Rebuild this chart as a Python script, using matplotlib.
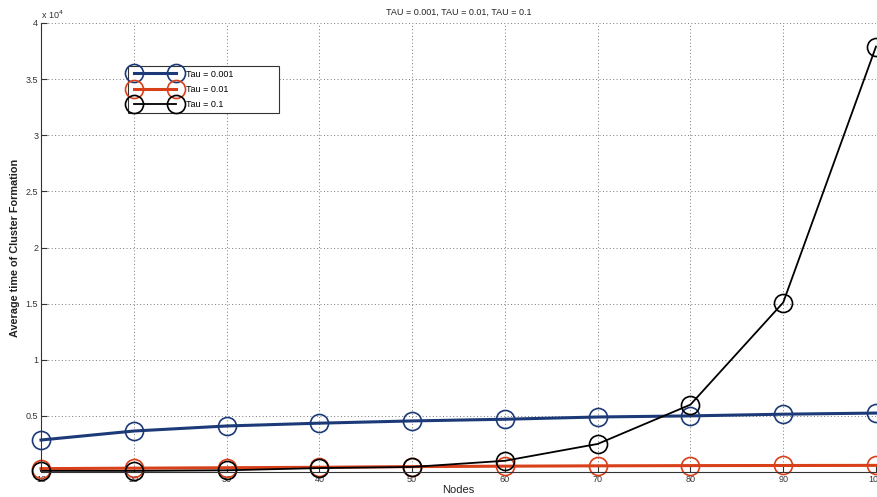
import matplotlib
matplotlib.use("Agg")
import matplotlib.pyplot as plt

plt.rcParams['font.family'] = ['Liberation Sans', 'DejaVu Sans']

nodes = [10, 20, 30, 40, 50, 60, 70, 80, 90, 100]
tau_001 = [2850, 3650, 4100, 4350, 4550, 4700, 4900, 5000, 5150, 5250]
tau_01 = [300, 340, 380, 420, 480, 520, 550, 570, 580, 590]
tau_1 = [100, 100, 150, 350, 450, 1000, 2500, 6000, 15100, 37900]

labels = ["Tau = 0.001", "Tau = 0.01", "Tau = 0.1"]
colors = ["#1d3a78", "#d8401a", "#000000"]

fig = plt.figure(figsize=(8.77, 4.97), dpi=100)
ax = fig.add_axes([41 / 877, 25 / 497, 835 / 877, 449 / 497])

ax.plot(nodes, tau_001, color=colors[0], lw=2.2, marker="o", ms=13,
        mfc="none", mew=1.2, label=labels[0], clip_on=False)
ax.plot(nodes, tau_01, color=colors[1], lw=2.2, marker="o", ms=13,
        mfc="none", mew=1.2, label=labels[1], clip_on=False)
ax.plot(nodes, tau_1, color=colors[2], lw=1.3, marker="o", ms=13,
        mfc="none", mew=1.2, label=labels[2], clip_on=False)

ax.set_xlim(10, 100)
ax.set_ylim(0, 40000)
ax.set_xticks(nodes)
ax.set_xticklabels([str(n) for n in nodes])
ax.set_yticks([5000, 10000, 15000, 20000, 25000, 30000, 35000, 40000])
ax.set_yticklabels(["0.5", "1", "1.5", "2", "2.5", "3", "3.5", "4"])
ax.tick_params(direction="in", length=4, labelsize=6.5, pad=2, color="#333333",
               labelcolor="#333333")

ax.grid(True, linestyle=(0, (1, 2.5)), color="#777777", linewidth=0.7)
ax.set_axisbelow(True)
ax.spines["top"].set_visible(False)
ax.spines["right"].set_visible(False)
ax.spines["left"].set_color("#333333")
ax.spines["bottom"].set_color("#333333")

ax.text(0.0, 1.005, "x 10$^{4}$", transform=ax.transAxes, fontsize=6.5,
        color="#333333", ha="left", va="bottom")
ax.set_title("TAU = 0.001, TAU = 0.01, TAU = 0.1", fontsize=6.5, pad=6,
             color="#222222")
ax.set_xlabel("Nodes", fontsize=8, labelpad=1, color="#222222")
ax.set_ylabel("Average time of Cluster Formation", fontsize=7.8,
              fontweight="bold", labelpad=4, color="#222222")

leg = ax.legend(loc="upper left",
                bbox_to_anchor=(87 / 835, (472 - 114) / 449, 151 / 835, 48 / 449),
                mode="expand", borderaxespad=0, numpoints=2, fontsize=6.5,
                handlelength=5.2, fancybox=False, framealpha=1,
                edgecolor="#333333", borderpad=0.4, labelspacing=0.7)
leg.get_frame().set_linewidth(0.8)

fig.savefig("out.png", dpi=100)
